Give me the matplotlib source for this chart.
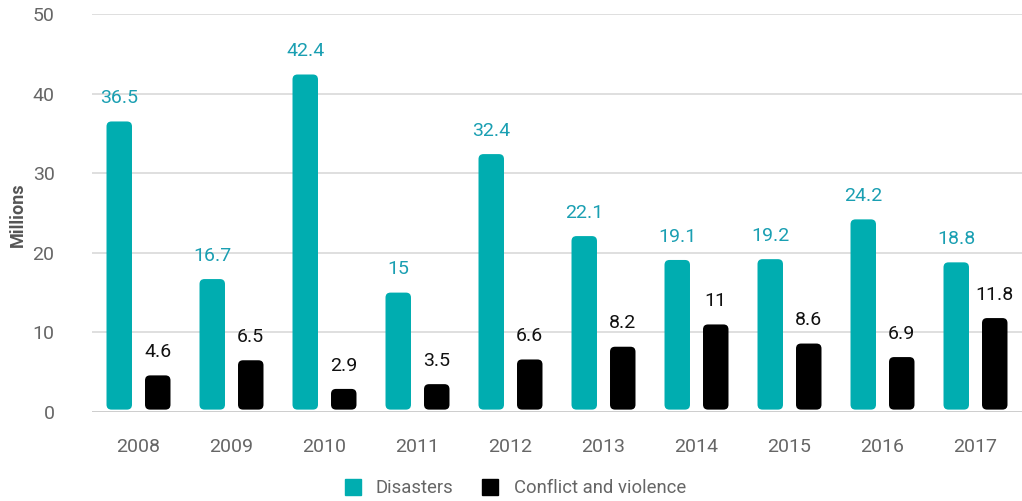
import numpy as np
import matplotlib
matplotlib.use("Agg")
import matplotlib.pyplot as plt
from matplotlib.patches import FancyBboxPatch
from matplotlib.lines import Line2D

plt.rcParams['font.family'] = ['Roboto', 'DejaVu Sans']

years = ["2008", "2009", "2010", "2011", "2012", "2013", "2014", "2015", "2016", "2017"]
disasters = [36.5, 16.7, 42.4, 15, 32.4, 22.1, 19.1, 19.2, 24.2, 18.8]
conflict = [4.6, 6.5, 2.9, 3.5, 6.6, 8.2, 11, 8.6, 6.9, 11.8]
series_names = ["Disasters", "Conflict and violence"]

teal = "#00adb0"
teal_text = "#1a9fb2"
black = "#000000"
grey_text = "#666666"

fig = plt.figure(figsize=(10.22, 5.01), dpi=100)
ax = fig.add_axes([92/1022, 89/501, 930/1022, 398/501])

x = np.arange(len(years))
w = 0.274
off = 0.207

bars1 = ax.bar(x - off, disasters, w, color=teal)
bars2 = ax.bar(x + off, conflict, w, color=black)

ax.set_xlim(-0.5, len(years) - 0.5)
ax.set_ylim(0, 50)

# replace plain bars with rounded ones
px_x = 930 / len(years)      # px per x unit
px_y = 398 / 50.0            # px per y unit
r = 5.0 / px_x
aspect = px_x / px_y
for bars, col in [(bars1, teal), (bars2, black)]:
    for b in bars:
        bx, by = b.get_x(), b.get_y()
        bw, bh = b.get_width(), b.get_height()
        b.set_visible(False)
        p = FancyBboxPatch((bx, by + 0.3), bw, bh - 0.3,
                           boxstyle="round,pad=0,rounding_size=%f" % r,
                           mutation_aspect=aspect, facecolor=col,
                           edgecolor="none", zorder=3)
        ax.add_patch(p)

# value labels
for xi, v in zip(x, disasters):
    ax.text(xi - off, v + 1.8, "%g" % v, ha="center", va="bottom",
            color=teal_text, fontsize=14)
for xi, v in zip(x, conflict):
    ax.text(xi + off, v + 1.8, "%g" % v, ha="center", va="bottom",
            color="#111111", fontsize=14)

ax.set_yticks([0, 10, 20, 30, 40, 50])
ax.set_xticks(x)
ax.set_xticklabels(years)
ax.grid(axis="y", color="#d9d9d9", linewidth=1.2, zorder=0)
ax.set_axisbelow(True)
for s in ["top", "right", "left", "bottom"]:
    ax.spines[s].set_visible(False)
ax.axhline(0, color="#cccccc", linewidth=2, zorder=4)
ax.tick_params(axis="both", length=0, labelsize=14, colors=grey_text)
ax.tick_params(axis="y", pad=27)
ax.tick_params(axis="x", pad=19)
for t in ax.get_yticklabels():
    t.set_clip_on(False)

fig.text(18/1022, (501-215)/501, "Millions", rotation=90, ha="center", va="center",
         fontsize=13, fontweight="bold", color="#555555")

handles = [Line2D([], [], marker="s", linestyle="none", markersize=11,
                  markerfacecolor=c, markeredgecolor=c)
           for c in (teal, black)]
leg = fig.legend(handles, series_names, loc="center", bbox_to_anchor=(510/1022, 0.026),
                 ncol=2, frameon=False, fontsize=13.3, handletextpad=0.25,
                 columnspacing=1.0, labelcolor=grey_text)

fig.savefig("out.png", dpi=100)
